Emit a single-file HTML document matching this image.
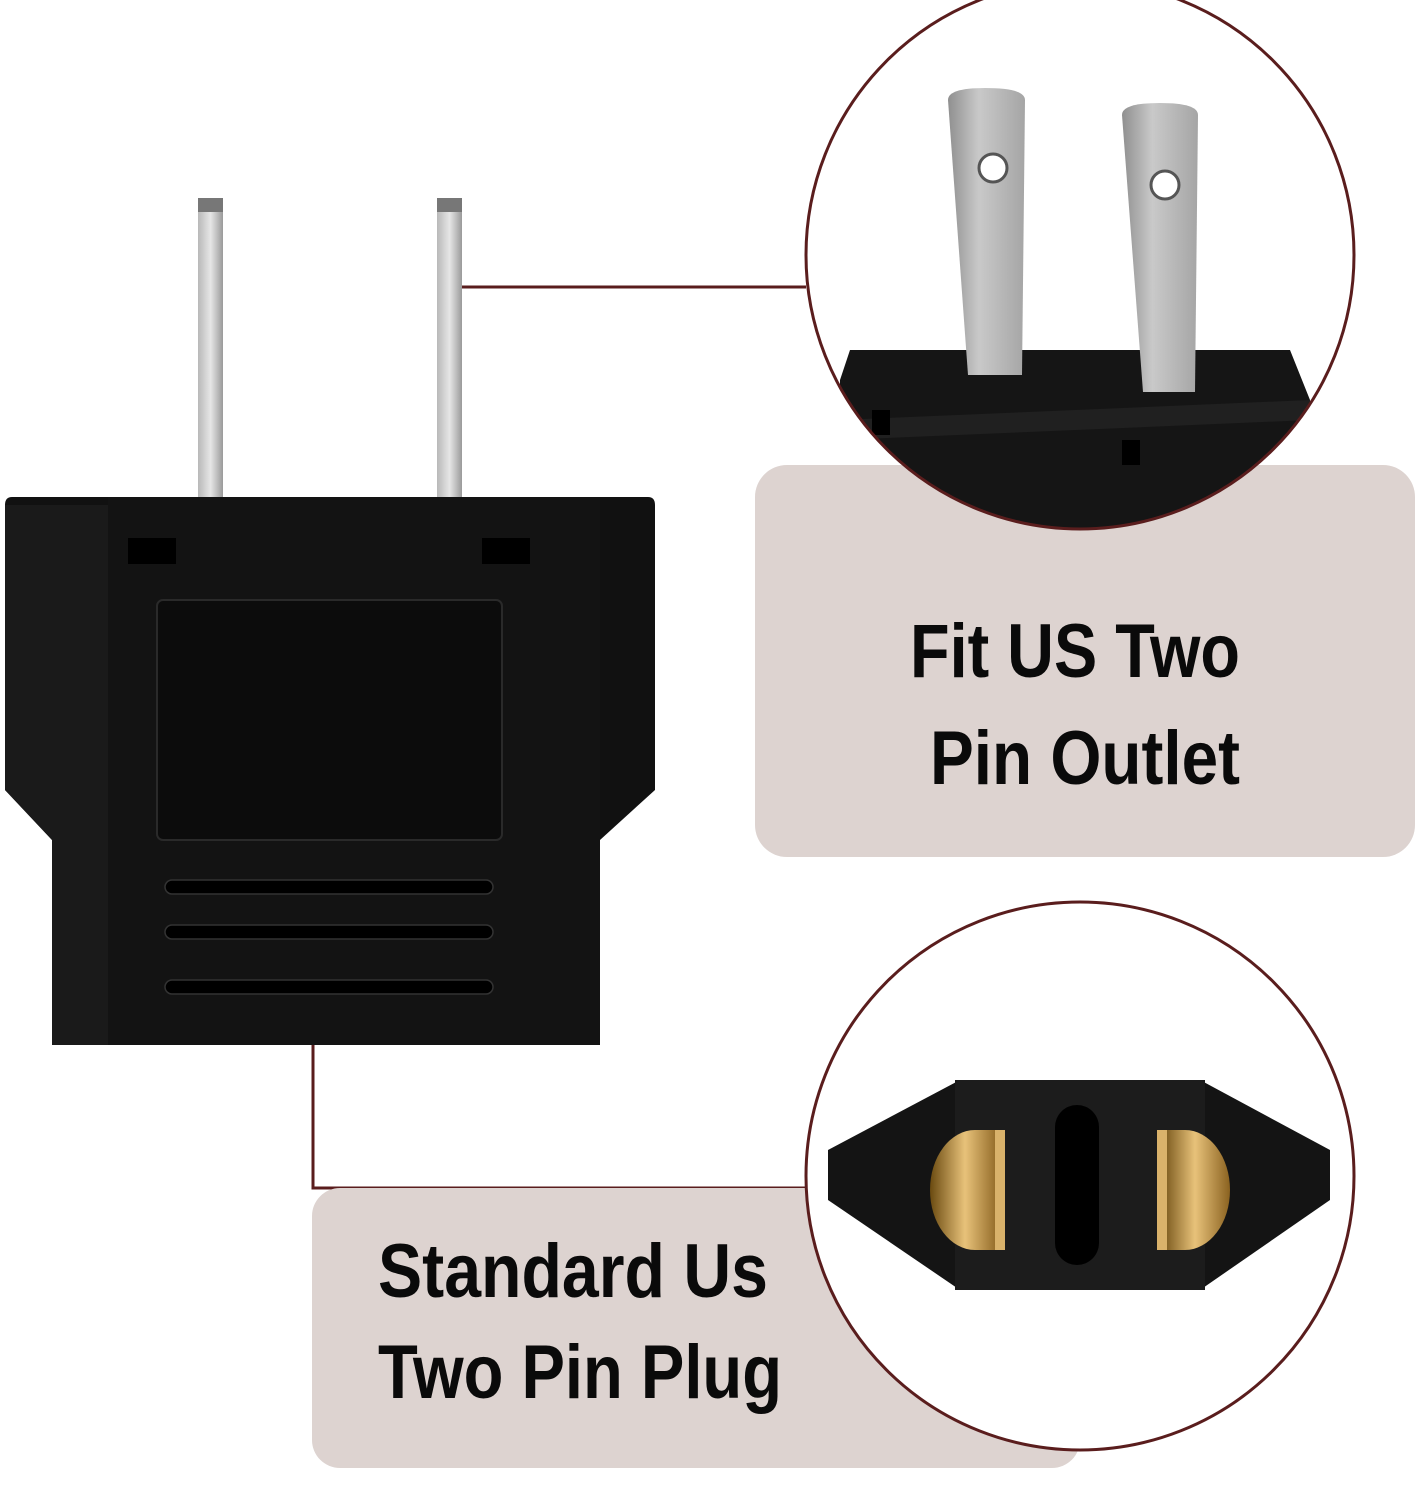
<!DOCTYPE html>
<html><head><meta charset="utf-8"><style>
html,body{margin:0;padding:0;background:#fff;}
svg{display:block;}
text{font-family:"Liberation Sans",sans-serif;font-weight:bold;fill:#0a0a0a;}
</style></head><body>
<svg width="1419" height="1500" viewBox="0 0 1419 1500" xmlns="http://www.w3.org/2000/svg">
<defs>
<linearGradient id="pr" x1="0" x2="1"><stop offset="0" stop-color="#b8b8b8"/><stop offset="0.5" stop-color="#e6e6e6"/><stop offset="1" stop-color="#9a9a9a"/></linearGradient>
<linearGradient id="pr2" x1="0" x2="1"><stop offset="0" stop-color="#8f8f8f"/><stop offset="0.4" stop-color="#c9c9c9"/><stop offset="1" stop-color="#a5a5a5"/></linearGradient>
<linearGradient id="gold" x1="0" x2="1"><stop offset="0" stop-color="#6a4a10"/><stop offset="0.5" stop-color="#e8c27a"/><stop offset="1" stop-color="#8a6220"/></linearGradient>
<clipPath id="c1"><circle cx="1080" cy="255" r="274"/></clipPath>
<clipPath id="c2"><circle cx="1080" cy="1176" r="274"/></clipPath>
</defs>

<line x1="448" y1="287" x2="806" y2="287" stroke="#5a1d1d" stroke-width="3"/>
<polyline points="313,1045 313,1188 806,1188" fill="none" stroke="#5a1d1d" stroke-width="3"/>

<rect x="198" y="198" width="25" height="300" fill="url(#pr)"/>
<rect x="198" y="198" width="25" height="14" fill="#777"/>
<rect x="437" y="198" width="25" height="300" fill="url(#pr)"/>
<rect x="437" y="198" width="25" height="14" fill="#777"/>

<path d="M12,497 L648,497 Q655,497 655,505 L655,790 L600,840 L600,1045 L52,1045 L52,840 L5,790 L5,505 Q5,497 12,497 Z" fill="#111"/>
<path d="M5,505 L108,505 L108,1045 L52,1045 L52,840 L5,790 Z" fill="#1a1a1a"/>
<rect x="108" y="497" width="492" height="548" fill="#131313"/>
<rect x="128" y="538" width="48" height="26" fill="#000"/>
<rect x="482" y="538" width="48" height="26" fill="#000"/>
<rect x="157" y="600" width="345" height="240" rx="6" fill="#0c0c0c" stroke="#2a2a2a" stroke-width="2"/>
<rect x="165" y="880" width="328" height="14" rx="7" fill="#000" stroke="#333" stroke-width="1.5"/>
<rect x="165" y="925" width="328" height="14" rx="7" fill="#000" stroke="#333" stroke-width="1.5"/>
<rect x="165" y="980" width="328" height="14" rx="7" fill="#000" stroke="#333" stroke-width="1.5"/>

<rect x="755" y="465" width="660" height="392" rx="32" fill="#ddd3d0"/>
<text x="910" y="677" font-size="76" textLength="330" lengthAdjust="spacingAndGlyphs">Fit US Two</text>
<text x="930" y="784" font-size="76" textLength="310" lengthAdjust="spacingAndGlyphs">Pin Outlet</text>

<g clip-path="url(#c1)">
<rect x="800" y="-30" width="560" height="570" fill="#fff"/>
<path d="M850,350 L1290,350 L1310,400 L1310,540 L840,540 L840,380 Z" fill="#151515"/>
<path d="M840,420 L1310,400 L1310,420 L840,440 Z" fill="#202020"/>
<rect x="872" y="410" width="18" height="25" fill="#000"/>
<rect x="1122" y="440" width="18" height="25" fill="#000"/>
<path d="M948,100 Q948,88 985,88 Q1025,88 1025,100 L1022,375 L968,375 Z" fill="url(#pr2)"/>
<circle cx="993" cy="168" r="14" fill="#fff" stroke="#555" stroke-width="3"/>
<path d="M1122,115 Q1122,103 1160,103 Q1198,103 1198,115 L1195,392 L1143,392 Z" fill="url(#pr2)"/>
<circle cx="1165" cy="185" r="14" fill="#fff" stroke="#555" stroke-width="3"/>
</g>
<circle cx="1080" cy="255" r="274" fill="none" stroke="#5a1d1d" stroke-width="3"/>

<rect x="312" y="1188" width="768" height="280" rx="28" fill="#ddd3d0"/>
<text x="378" y="1297" font-size="76" textLength="390" lengthAdjust="spacingAndGlyphs">Standard Us</text>
<text x="378" y="1398" font-size="76" textLength="404" lengthAdjust="spacingAndGlyphs">Two Pin Plug</text>

<g clip-path="url(#c2)">
<rect x="800" y="895" width="560" height="570" fill="#fff"/>
<path d="M960,1080 L1200,1080 L1330,1150 L1330,1200 L1200,1290 L960,1290 L828,1200 L828,1150 Z" fill="#141414"/>
<rect x="955" y="1080" width="250" height="210" fill="#1c1c1c"/>
<rect x="1055" y="1105" width="44" height="160" rx="22" fill="#000"/>
<path d="M1000,1130 L1000,1250 L975,1250 A45,60 0 0 1 975,1130 Z" fill="url(#gold)"/>
<rect x="995" y="1130" width="10" height="120" fill="#d9b26b"/>
<path d="M1160,1130 L1160,1250 L1185,1250 A45,60 0 0 0 1185,1130 Z" fill="url(#gold)"/>
<rect x="1157" y="1130" width="10" height="120" fill="#d9b26b"/>
</g>
<circle cx="1080" cy="1176" r="274" fill="none" stroke="#5a1d1d" stroke-width="3"/>
</svg>
</body></html>
